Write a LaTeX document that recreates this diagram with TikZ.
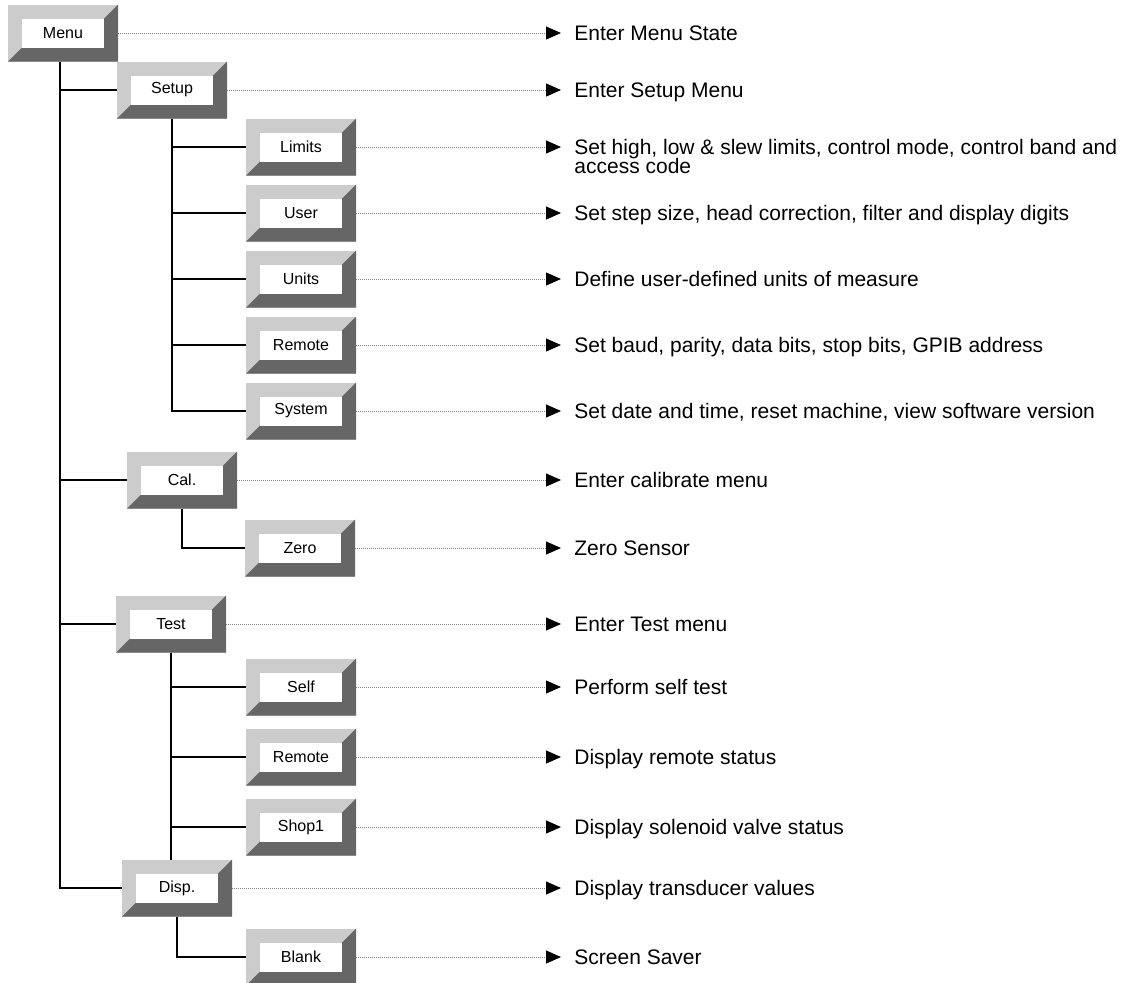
\documentclass[tikz,border=0pt]{standalone}
\usepackage{fontspec}
\setmainfont{Liberation Sans}
\usetikzlibrary{arrows.meta, positioning}

\definecolor{bevellight}{HTML}{CCCCCC}
\definecolor{beveldark}{HTML}{666666}

\begin{document}
\begin{tikzpicture}[
  x=0.5pt, y=0.5pt,
  btn/.style={rectangle, fill=bevellight, inner sep=0pt, outer sep=0pt,
             minimum width=55pt, minimum height=28.5pt,
             font=\fontsize{8}{9.6}\selectfont,
             path picture={
               \fill[beveldark] (path picture bounding box.south west)
                 -- ([shift={(7pt,7pt)}]path picture bounding box.south west)
                 -- ([shift={(-7pt,7pt)}]path picture bounding box.south east)
                 -- ([shift={(-7pt,-7pt)}]path picture bounding box.north east)
                 -- (path picture bounding box.north east)
                 -- (path picture bounding box.south east) -- cycle;
               \fill[white] ([shift={(7pt,7pt)}]path picture bounding box.south west)
                 rectangle ([shift={(-7pt,-7pt)}]path picture bounding box.north east);
             }},
  desc/.style={anchor=base west, inner xsep=6.5pt, inner ysep=0pt, yshift=-3.8pt,
             font=\fontsize{10.5}{9.5}\selectfont, align=left},
  tree/.style={line width=0.7pt},
  arrow/.style={draw=gray, line width=0.5pt, dash pattern=on 0.5pt off 0.5pt,
             -{Triangle[length=7.5pt, width=6.5pt, color=black]}}
]
\useasboundingbox (0,0) rectangle (1131,-982);

% Buttons
\node[btn] (menu) at (63,-33) {Menu};
\node[btn, below right=0pt and -0.5pt of menu] (setup) {Setup};
\node[btn, below right=0pt and 9.5pt of setup] (limits) {Limits};
\node[btn, below=4.5pt of limits] (user) {User};
\node[btn, below=4.5pt of user] (units) {Units};
\node[btn, below=4.5pt of units] (remote) {Remote};
\node[btn, below=4.5pt of remote] (system) {System};
\node[btn, below left=6pt and 4.5pt of system] (cal) {Cal.};
\node[btn, below right=5.5pt and 4pt of cal] (zero) {Zero};
\node[btn, below left=9.5pt and 9.5pt of zero] (test) {Test};
\node[btn, below right=3pt and 10pt of test] (self) {Self};
\node[btn, below=6.5pt of self] (tremote) {Remote};
\node[btn, below=6.5pt of tremote] (shop) {Shop1};
\node[btn, below left=2pt and 7pt of shop] (disp) {Disp.};
\node[btn, below right=6pt and 7pt of disp] (blank) {Blank};

% Descriptions
\coordinate (col) at (561,0);
\node[desc] (dmenu) at (col |- menu) {Enter Menu State};
\node[desc] (dsetup) at (col |- setup) {Enter Setup Menu};
\node[desc, yshift=-9.5pt] (dlimits) at (col |- limits)
  {Set high, low \& slew limits, control mode, control band and\\[-1.3pt]access code};
\node[desc] (duser) at (col |- user) {Set step size, head correction, filter and display digits};
\node[desc] (dunits) at (col |- units) {Define user-defined units of measure};
\node[desc] (dremote) at (col |- remote) {Set baud, parity, data bits, stop bits, GPIB address};
\node[desc] (dsystem) at (col |- system) {Set date and time, reset machine, view software version};
\node[desc] (dcal) at (col |- cal) {Enter calibrate menu};
\node[desc] (dzero) at (col |- zero) {Zero Sensor};
\node[desc] (dtest) at (col |- test) {Enter Test menu};
\node[desc] (dself) at (col |- self) {Perform self test};
\node[desc] (dtremote) at (col |- tremote) {Display remote status};
\node[desc] (dshop) at (col |- shop) {Display solenoid valve status};
\node[desc] (ddisp) at (col |- disp) {Display transducer values};
\node[desc] (dblank) at (col |- blank) {Screen Saver};

% Tree lines
\draw[tree] ([xshift=-1.5pt]menu.south) |- (setup.west);
\draw[tree] ([xshift=-1.5pt]menu.south) |- (cal.west);
\draw[tree] ([xshift=-1.5pt]menu.south) |- (test.west);
\draw[tree] ([xshift=-1.5pt]menu.south) |- (disp.west);
\draw[tree] (setup.south) |- (limits.west);
\draw[tree] (setup.south) |- (user.west);
\draw[tree] (setup.south) |- (units.west);
\draw[tree] (setup.south) |- (remote.west);
\draw[tree] (setup.south) |- (system.west);
\draw[tree] (cal.south) |- (zero.west);
\draw[tree] (test.south) |- (self.west);
\draw[tree] (test.south) |- (tremote.west);
\draw[tree] (test.south) |- (shop.west);
\draw[tree] (shop.west -| test.south) -- (test.south |- disp.north);
\draw[tree] (disp.south) |- (blank.west);

% Arrows
\draw[arrow] (menu.east) -- (menu.east -| dmenu.west);
\draw[arrow] (setup.east) -- (setup.east -| dsetup.west);
\draw[arrow] (limits.east) -- (limits.east -| dlimits.west);
\draw[arrow] (user.east) -- (user.east -| duser.west);
\draw[arrow] (units.east) -- (units.east -| dunits.west);
\draw[arrow] (remote.east) -- (remote.east -| dremote.west);
\draw[arrow] (system.east) -- (system.east -| dsystem.west);
\draw[arrow] (cal.east) -- (cal.east -| dcal.west);
\draw[arrow] (zero.east) -- (zero.east -| dzero.west);
\draw[arrow] (test.east) -- (test.east -| dtest.west);
\draw[arrow] (self.east) -- (self.east -| dself.west);
\draw[arrow] (tremote.east) -- (tremote.east -| dtremote.west);
\draw[arrow] (shop.east) -- (shop.east -| dshop.west);
\draw[arrow] (disp.east) -- (disp.east -| ddisp.west);
\draw[arrow] (blank.east) -- (blank.east -| dblank.west);

\end{tikzpicture}
\end{document}
